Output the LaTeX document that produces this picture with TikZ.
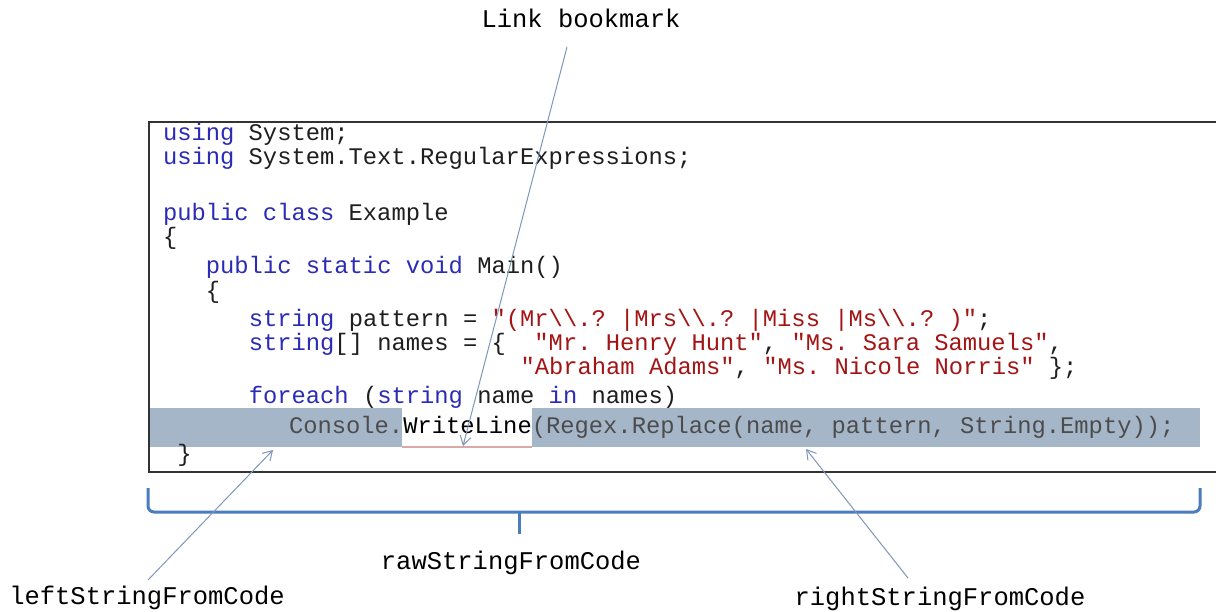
\documentclass[tikz,border=0pt]{standalone}
\usepackage{fontspec}
\setmonofont{Liberation Mono}
\usetikzlibrary{arrows.meta}
\definecolor{kwc}{HTML}{2B2BB5}
\definecolor{strc}{HTML}{A31515}
\definecolor{txtc}{HTML}{1E1E1E}
\definecolor{bandc}{HTML}{A6B6C9}
\definecolor{bracec}{HTML}{4A7CBF}
\definecolor{pointerc}{HTML}{7E97BA}
\definecolor{ulinec}{HTML}{D9A8A8}
\newcommand{\kwd}[1]{\textcolor{kwc}{#1}}
\newcommand{\cstr}[1]{\textcolor{strc}{#1}}
\newcommand{\bs}{\textbackslash}
\begin{document}
\begin{tikzpicture}[x=1pt,y=-1pt,
  code/.style={anchor=mid west, inner sep=0pt, outer sep=0pt,
    text height=15pt, text depth=4pt,
    font=\ttfamily\fontsize{23.8}{28}\selectfont, text=txtc},
  lbl/.style={font=\ttfamily\fontsize{25.5}{30}\selectfont, text=black, inner sep=0pt},
  pointer/.style={draw=pointerc, line width=1pt, -{Straight Barb[length=9pt,width=11pt]}},
  bracket/.style={draw=bracec, line width=3pt}]

\useasboundingbox[fill=white] (0,0) rectangle (1216,612);

% highlighted line band
\fill[bandc] (149,408) rectangle (1200,447);
\fill[white] (402,408) rectangle (532,447);
\draw[ulinec, line width=1.2pt] (402,447) -- (532,447);

% frame
\draw[black!80, line width=1.8pt] (1218,122) -- (149,122) -- (149,472) -- (1218,472);

% code
\node[code] (l1) at (163,138) {\kwd{using} System;};
\node[code] (l2) at (163,162) {\kwd{using} System.Text.RegularExpressions;};
\node[code] (l3) at (163,218) {\kwd{public} \kwd{class} Example};
\node[code] (l4) at (163,242) {\{};
\node[code] (l5) at (205.9,271) {\kwd{public} \kwd{static} \kwd{void} Main()};
\node[code] (l6) at (205.9,296) {\{};
\node[code] (l7) at (248.8,324) {\kwd{string} pattern = \cstr{"(Mr\bs\bs.? |Mrs\bs\bs.? |Miss |Ms\bs\bs.? )"};};
\node[code] (l8) at (248.8,348) {\kwd{string}[] names = \{\ \ \cstr{"Mr. Henry Hunt"}, \cstr{"Ms. Sara Samuels"},};
\node[code] (l9) at (520.5,372) {\cstr{"Abraham Adams"}, \cstr{"Ms. Nicole Norris"} \};};
\node[code] (l10) at (248.8,401) {\kwd{foreach} (\kwd{string} name \kwd{in} names)};
\node[code, text=black!70] (l11) at (289,431) {Console.\textcolor{black}{WriteLine}(Regex.Replace(name, pattern, String.Empty));};
\node[code] (l12) at (177.3,459) {\}};

% brace
\draw[bracket, rounded corners=6pt] (148,488) -- (148,512) -- (1200,512) -- (1200,488);
\draw[bracket] (519,511) -- (519,534);

% labels
\node[lbl] (link) at (581,18) {Link bookmark};
\node[lbl] (raw) at (511,563) {rawStringFromCode};
\node[lbl] (left) at (147,598) {leftStringFromCode};
\node[lbl] (right) at (940,599) {rightStringFromCode};

% pointers
\coordinate (linkfrom) at (567,47);
\coordinate (linkto) at (463,446);
\coordinate (leftfrom) at (148,580);
\coordinate (leftto) at (273,450);
\coordinate (rightfrom) at (908,578);
\coordinate (rightto) at (806,449);
\draw[pointer] (linkfrom) -- (linkto);
\draw[pointer] (leftfrom) -- (leftto);
\draw[pointer] (rightfrom) -- (rightto);
\end{tikzpicture}
\end{document}
